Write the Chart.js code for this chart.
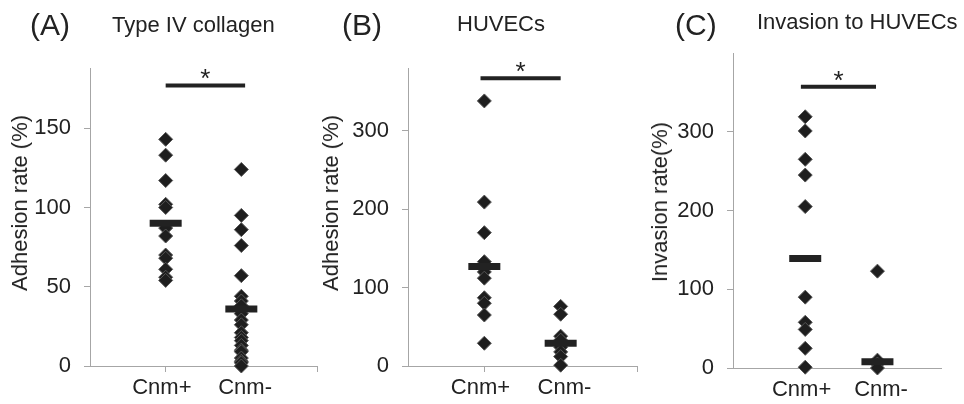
<!DOCTYPE html>
<html lang="en">
  <head>
    <meta charset="utf-8" />
    <meta name="viewport" content="width=device-width, initial-scale=1" />
    <title>Cnm adhesion and invasion</title>
    <style>
      body {
        margin: 0;
        background-color: white;
      }
      #wrap {
        position: relative;
        width: 964px;
        height: 404px;
        overflow: hidden;
        font-family: "Liberation Sans", Arial, sans-serif;
        color: #222;
      }
      canvas {
        position: absolute;
        top: 0;
      }
      .lbl {
        position: absolute;
        line-height: 1;
        white-space: nowrap;
      }
      .panel {
        font-size: 30px;
      }
      .head {
        font-size: 22px;
      }
      .ytitle {
        font-size: 22px;
        transform: translate(-50%, -50%) rotate(-90deg);
      }
    </style>
  </head>
  <body>
    <div id="wrap">
      <canvas id="chartA" width="340" height="404" style="left: 0px"></canvas>
      <canvas id="chartB" width="340" height="404" style="left: 320px"></canvas>
      <canvas id="chartC" width="324" height="404" style="left: 640px"></canvas>

      <div class="lbl panel" style="left: 30px; top: 10px">(A)</div>
      <div class="lbl head" style="left: 112px; top: 14px">Type IV collagen</div>
      <div class="lbl ytitle" style="left: 20px; top: 203px">Adhesion rate (%)</div>

      <div class="lbl panel" style="left: 342px; top: 10px">(B)</div>
      <div class="lbl head" style="left: 457px; top: 13px">HUVECs</div>
      <div class="lbl ytitle" style="left: 331px; top: 203px">Adhesion rate (%)</div>

      <div class="lbl panel" style="left: 675px; top: 10px">(C)</div>
      <div class="lbl head" style="left: 757px; top: 11px">Invasion to HUVECs</div>
      <div class="lbl ytitle" style="left: 660px; top: 202px">Invasion rate(%)</div>
    </div>

    <script src="https://cdn.jsdelivr.net/npm/chart.js"></script>
    <script>
      const categories = ["Cnm+", "Cnm-"];

      // (A) adhesion to type IV collagen, %
      const collagenPlus = [143, 133, 117, 102, 100, 87, 82, 70, 68, 61, 56, 54];
      const collagenMinus = [124, 95, 86, 76, 57, 44, 41, 38, 33, 29, 26, 21, 18, 16, 13, 10, 9, 5, 3, 2, 0];
      const collagenMean = [90, 36];
      const collagenTicks = [0, 50, 100, 150];

      // (B) adhesion to HUVECs, %
      const huvecPlus = [338, 209, 170, 133, 120, 112, 87, 80, 65, 29];
      const huvecMinus = [76, 66, 38, 33, 24, 18, 12, 1];
      const huvecMean = [127, 29];
      const huvecTicks = [0, 100, 200, 300];

      // (C) invasion to HUVECs, %
      const invasionPlus = [319, 301, 265, 245, 205, 90, 58, 49, 25, 1];
      const invasionMinus = [123, 10, 5, 0];
      const invasionMean = [139, 8];
      const invasionTicks = [0, 100, 200, 300];

      // height of the "*" bracket in each panel
      const sigLevel = [177, 367, 357];

      const ink = "#222";
      const axisGrey = "#a6a6a6";
      const font = '"Liberation Sans", Arial, sans-serif';

      const starPlugin = {
        id: "star",
        afterDatasetsDraw(chart, args, opts) {
          const { ctx, scales } = chart;
          const x = scales.x.getPixelForValue(opts.x);
          const y = scales.y.getPixelForValue(opts.y);
          ctx.save();
          ctx.font = "26px " + font;
          ctx.fillStyle = ink;
          ctx.textAlign = "center";
          ctx.textBaseline = "alphabetic";
          ctx.fillText("*", x, y + 2);
          ctx.restore();
        },
      };

      function panel(id, plus, minus, mean, yTicks, yMax, xMax, sig, sigFrom, sigTo, box) {
        const canvas = document.getElementById(id);
        const pts = (vals, x) => vals.map((v) => ({ x: x, y: v }));
        // category names sit a little wider apart than the tick marks
        const labelAt = [0.95, 2.05];

        return new Chart(canvas, {
          type: "scatter",
          data: {
            datasets: [
              {
                data: [
                  { x: 1, y: mean[0] },
                  { x: 2, y: mean[1] },
                ],
                pointStyle: "line",
                pointRadius: 16,
                borderWidth: 7,
                borderColor: ink,
                order: 0,
              },
              {
                data: pts(plus, 1).concat(pts(minus, 2)),
                pointStyle: "rectRot",
                pointRadius: 7,
                backgroundColor: "#1e1e1e",
                borderColor: "#555",
                borderWidth: 1,
                order: 1,
              },
              {
                type: "line",
                data: [
                  { x: sigFrom, y: sig },
                  { x: sigTo, y: sig },
                ],
                borderColor: ink,
                borderWidth: 4,
                pointRadius: 0,
                order: 2,
              },
            ],
          },
          options: {
            responsive: false,
            animation: false,
            events: [],
            clip: false,
            layout: {
              padding: {
                left: 0,
                top: box.top,
                right: canvas.width - box.right,
                bottom: 0,
              },
            },
            plugins: {
              legend: { display: false },
              tooltip: { enabled: false },
              star: { x: (sigFrom + sigTo) / 2, y: sig },
            },
            scales: {
              x: {
                type: "linear",
                min: 0,
                max: xMax,
                afterFit: (s) => {
                  s.height = 6;
                },
                afterBuildTicks: (s) => {
                  s.ticks = [1, 2, 3].filter((v) => v <= xMax).map((v) => ({ value: v }));
                },
                grid: {
                  drawOnChartArea: false,
                  tickLength: 6,
                  color: axisGrey,
                },
                border: { color: axisGrey, width: 1 },
                ticks: { display: false },
              },
              names: {
                type: "linear",
                position: "bottom",
                min: 0,
                max: xMax,
                afterFit: (s) => {
                  s.height = canvas.height - box.bottom - 6;
                },
                afterBuildTicks: (s) => {
                  s.ticks = labelAt.map((v) => ({ value: v }));
                },
                grid: { display: false, drawTicks: false },
                border: { display: false },
                ticks: {
                  padding: 3,
                  color: ink,
                  font: { family: font, size: 22 },
                  callback: (v, i) => categories[i],
                },
              },
              y: {
                min: 0,
                max: yMax,
                afterFit: (s) => {
                  s.width = box.left;
                },
                afterBuildTicks: (s) => {
                  s.ticks = yTicks.map((v) => ({ value: v }));
                },
                grid: {
                  drawOnChartArea: false,
                  tickLength: 6,
                  color: axisGrey,
                },
                border: { color: axisGrey, width: 1 },
                ticks: {
                  padding: 13,
                  color: ink,
                  font: { family: font, size: 22 },
                },
              },
            },
          },
          plugins: [starPlugin],
        });
      }

      panel("chartA", collagenPlus, collagenMinus, collagenMean, collagenTicks, 188, 3,
        sigLevel[0], 1.0, 2.05, { left: 90, right: 330, top: 68, bottom: 366 });
      panel("chartB", huvecPlus, huvecMinus, huvecMean, huvecTicks, 380, 3,
        sigLevel[1], 0.95, 2.0, { left: 88, right: 328, top: 68, bottom: 366 });
      panel("chartC", invasionPlus, invasionMinus, invasionMean, invasionTicks, 400, 2.88,
        sigLevel[2], 0.94, 1.98, { left: 93, right: 324, top: 53, bottom: 368 });
    </script>
  </body>
</html>
